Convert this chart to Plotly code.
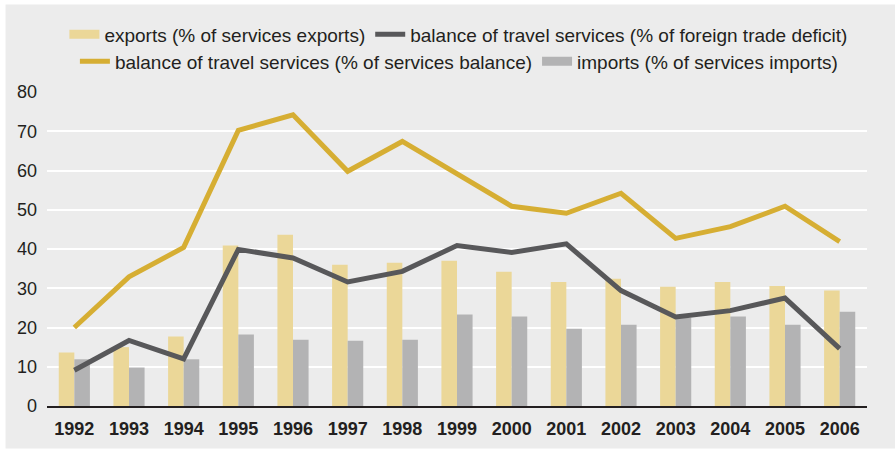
"""Travel services share chart: export/import bars with two balance lines."""

import plotly.graph_objects as go

YEARS = [str(y) for y in range(1992, 2007)]

EXPORTS = [13.6, 15.0, 17.7, 40.9, 43.6, 36.0, 36.5, 37.0, 34.2, 31.6, 32.4, 30.4, 31.6, 30.6, 29.4]
IMPORTS = [11.9, 9.8, 11.9, 18.2, 16.9, 16.6, 16.9, 23.3, 22.8, 19.7, 20.7, 22.5, 22.8, 20.7, 24.0]
BAL_SERVICES = [20.0, 32.9, 40.4, 70.2, 74.2, 59.8, 67.4, 59.3, 50.9, 49.1, 54.2, 42.7, 45.7, 50.9, 41.9]
BAL_DEFICIT = [9.1, 16.7, 12.0, 39.9, 37.7, 31.6, 34.3, 40.9, 39.1, 41.3, 29.4, 22.7, 24.3, 27.5, 14.6]

Y_TICKS = [0, 10, 20, 30, 40, 50, 60, 70, 80]

NAME_EXP = "exports (% of services exports)"
NAME_DEF = "balance of travel services (% of foreign trade deficit)"
NAME_BAL = "balance of travel services (% of services balance)"
NAME_IMP = "imports (% of services imports)"

W, H = 895, 454
M_L, M_R, M_T, M_B = 46.5, 28.3, 91.7, 47.5

BG = "#ececec"
EXP_COLOR = "#ebd798"
IMP_COLOR = "#b3b3b4"
GOLD = "#d6ae33"
DARK = "#58585a"
TEXT = "#231f20"
FONT = "Liberation Sans, Arial, sans-serif"

plot_w = W - M_L - M_R
plot_h = H - M_T - M_B


def px_x(x):
    return (x - M_L) / plot_w


def px_y(y):
    return (H - M_B - y) / plot_h


fig = go.Figure()
fig.add_trace(go.Bar(x=YEARS, y=EXPORTS, name=NAME_EXP, showlegend=False,
                     marker={"color": EXP_COLOR, "line": {"width": 0}}))
fig.add_trace(go.Bar(x=YEARS, y=IMPORTS, name=NAME_IMP, showlegend=False,
                     marker={"color": IMP_COLOR, "line": {"width": 0}}))
fig.add_trace(go.Scatter(x=YEARS, y=BAL_DEFICIT, mode="lines", name=NAME_DEF, showlegend=False,
                         line={"color": DARK, "width": 5}))
fig.add_trace(go.Scatter(x=YEARS, y=BAL_SERVICES, mode="lines", name=NAME_BAL, showlegend=False,
                         line={"color": GOLD, "width": 5}))

# legend entries: wide flat swatches for the bars, as in the original
for name, color, width, leg in [
    (NAME_EXP, EXP_COLOR, 9, "legend"),
    (NAME_DEF, DARK, 5, "legend"),
    (NAME_BAL, GOLD, 5, "legend2"),
    (NAME_IMP, IMP_COLOR, 9, "legend2"),
]:
    fig.add_trace(go.Scatter(x=[None], y=[None], mode="lines", name=name,
                             line={"color": color, "width": width}, legend=leg,
                             hoverinfo="skip"))

# grey panel with a thin white frame at the top/left/bottom
fig.add_shape(type="rect", xref="paper", yref="paper", layer="below",
              x0=px_x(5), x1=px_x(W + 5), y0=px_y(449), y1=px_y(4),
              fillcolor=BG, line={"width": 0})

legend_common = dict(orientation="h", xanchor="center", yanchor="middle", x=px_x(458.5),
                     bgcolor="rgba(0,0,0,0)", font={"family": FONT, "size": 19, "color": TEXT},
                     itemwidth=30, tracegroupgap=0)

fig.update_layout(
    width=W,
    height=H,
    margin={"l": M_L, "r": M_R, "t": M_T, "b": M_B, "pad": 0, "autoexpand": False},
    paper_bgcolor="white",
    plot_bgcolor=BG,
    barmode="group",
    bargap=0.43,
    bargroupgap=0,
    font={"family": FONT, "size": 18, "color": TEXT},
    legend={**legend_common, "y": px_y(34)},
    legend2={**legend_common, "y": px_y(61)},
    xaxis={
        "type": "category",
        "range": [-0.5, 14.5],
        "showgrid": False,
        "showline": True,
        "linecolor": TEXT,
        "linewidth": 2,
        "ticks": "",
        "automargin": False,
        "tickfont": {"family": FONT, "size": 18, "color": TEXT, "weight": "bold"},
        "ticklabelstandoff": 5,
    },
    yaxis={
        "range": [0, 80],
        "tickvals": Y_TICKS,
        "showgrid": True,
        "gridcolor": "white",
        "gridwidth": 1.5,
        "zeroline": False,
        "ticks": "",
        "automargin": False,
        "ticklabelstandoff": 9,
        "tickfont": {"family": FONT, "size": 18, "color": TEXT},
    },
)

# drop the browser's default body margin so the figure sits at the page origin
fig.write_html("out.html", config={"displayModeBar": False},
               post_script="document.body.style.margin = '0';")
